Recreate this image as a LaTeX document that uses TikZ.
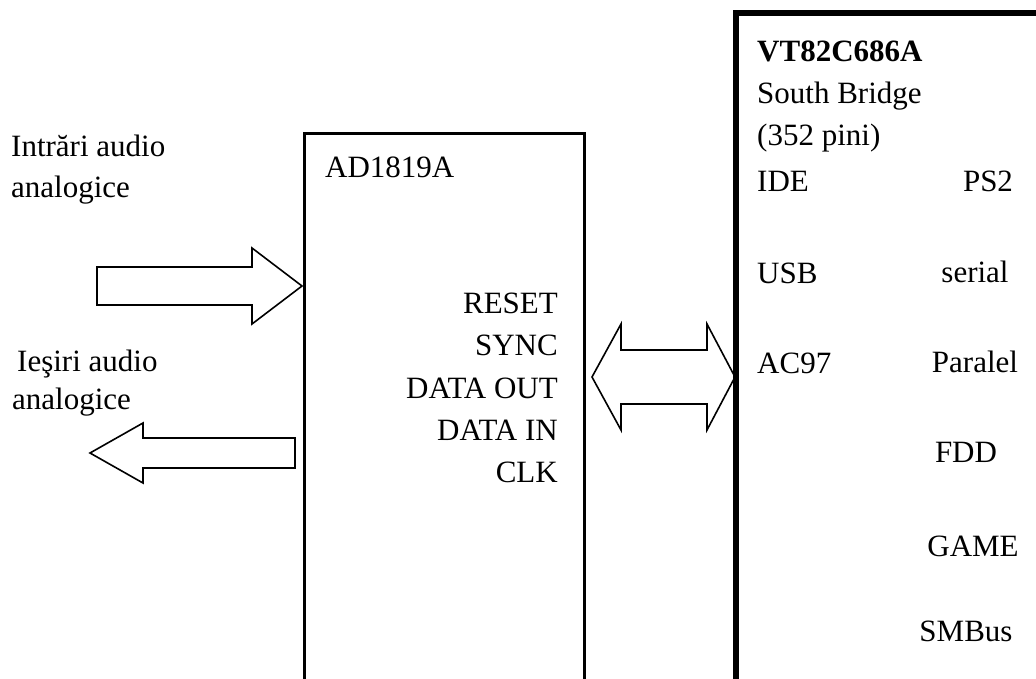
\documentclass[tikz,border=0pt]{standalone}
\usepackage{fontspec}
\setmainfont{Liberation Serif}
\usetikzlibrary{positioning}
\tikzset{
  chipbox/.style={draw=black, line width=3pt, anchor=north west, inner sep=0pt, outer sep=0pt},
  bridgebox/.style={draw=black, line width=6pt, anchor=north west, inner sep=0pt, outer sep=0pt},
  lbl/.style={font=\fontsize{31}{37}\selectfont, inner sep=0pt, anchor=base west},
  rlbl/.style={lbl, anchor=base east},
  clbl/.style={lbl, anchor=base},
  fatarrow/.style={draw=black, fill=white, line width=1.6pt, line join=miter}
}
\begin{document}
\begin{tikzpicture}[x=1pt, y=-1pt]
\clip (0,0) rectangle (1036,679);
\fill[white] (0,0) rectangle (1036,679);
% codec and south bridge
\node[chipbox, minimum width=280pt, minimum height=620pt] (codec) at (304,134) {};
\draw[fatarrow] (592,377) -- (621,324) -- (621,350) -- (707,350) -- (707,324) -- (735,377)
  -- (707,430) -- (707,404) -- (621,404) -- (621,430) -- cycle;
\node[bridgebox, minimum width=420pt, minimum height=720pt] (bridge) at (736,13) {};
% analog in/out
\draw[fatarrow] (97,267) -- (252,267) -- (252,248) -- (302,286) -- (252,324) -- (252,305) -- (97,305) -- cycle;
\draw[fatarrow] (295,438) -- (143,438) -- (143,423) -- (90,453) -- (143,483) -- (143,468) -- (295,468) -- cycle;
\node[lbl] (inlbl) at (11,157) {Intrări audio};
\node[lbl] (inlbl2) at (11,198) {analogice};
\node[lbl] (outlbl) at (17,371) {Ieşiri audio};
\node[lbl] (outlbl2) at (12,409) {analogice};
% codec pins
\node[lbl] (codecname) at (325,178) {AD1819A};
\foreach \pin/\yy [count=\i] in {RESET/313, SYNC/355, DATA OUT/398, DATA IN/440, CLK/482}
  \node[rlbl] (pin\i) at (558,\yy) {\pin};
% south bridge text
\node[lbl, font=\fontsize{31}{37}\selectfont\bfseries] (bridgename) at (757,62) {VT82C686A};
\node[lbl] (bridgetype) at (757,104) {South Bridge};
\node[lbl] (bridgepins) at (757,146) {(352 pini)};
\node[lbl] (ide) at (757,192) {IDE};
\node[lbl] (usb) at (757,283) {USB};
\node[lbl] (ac97) at (757,373) {AC97};
\node[clbl] (ps2) at (988,192) {PS2};
\node[clbl] (serial) at (975,282) {serial};
\node[clbl] (paralel) at (975,372) {Paralel};
\node[clbl] (fdd) at (966,462) {FDD};
\node[clbl] (game) at (973,556) {GAME};
\node[clbl] (smbus) at (966,641) {SMBus};
\end{tikzpicture}
\end{document}
